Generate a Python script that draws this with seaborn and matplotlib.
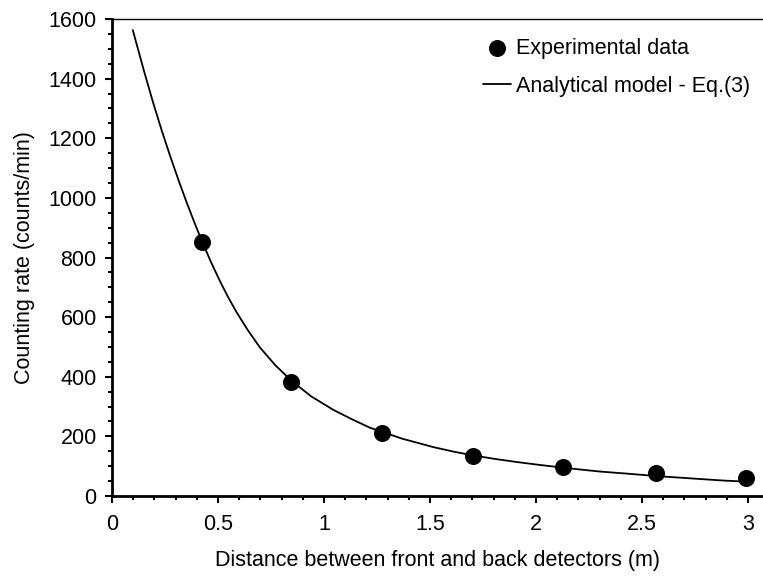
import numpy as np
import pandas as pd
import matplotlib
matplotlib.use("Agg")
import matplotlib.pyplot as plt
from matplotlib.ticker import MultipleLocator
import seaborn as sns

exp_x = [0.423, 0.844, 1.272, 1.704, 2.129, 2.566, 2.99]
exp_y = [852, 383, 212, 135, 98, 76, 61]

# Curva do modelo analitico - Eq.(3), lida ponto a ponto
model_x = [0.098, 0.15, 0.195, 0.235, 0.274, 0.313, 0.352, 0.39, 0.423, 0.466,
           0.509, 0.55, 0.588, 0.64, 0.698, 0.77, 0.844, 0.94, 1.044, 1.13,
           1.217, 1.37, 1.516, 1.61, 1.704, 1.81, 1.909, 2.02, 2.129, 2.22,
           2.302, 2.43, 2.566, 2.67, 2.774, 2.88, 2.994]
model_y = [1563, 1428, 1317, 1225, 1141, 1061, 985, 915, 857, 786,
           721, 664, 616, 557, 498, 439, 388, 334, 289, 258,
           229, 192, 164, 149, 136, 124, 114, 104, 95, 88,
           82, 75, 67, 62, 57, 52, 48]

df_exp = pd.DataFrame({"x": exp_x, "y": exp_y})
df_model = pd.DataFrame({"x": model_x, "y": model_y})

sns.set_style("ticks")
plt.rcParams['font.family'] = ['Liberation Sans', 'DejaVu Sans']
plt.rcParams['text.color'] = 'black'
plt.rcParams['axes.labelcolor'] = 'black'
fs = 15.5

fig = plt.figure(figsize=(7.63, 5.76), dpi=100)
ax = fig.add_axes([112 / 763, 80 / 576, 651 / 763, 477 / 576])

sns.lineplot(data=df_model, x="x", y="y", ax=ax, color="black", linewidth=1.3,
             label="Analytical model - Eq.(3)", sort=False)
sns.scatterplot(data=df_exp, x="x", y="y", ax=ax, color="black", s=150,
                edgecolor="black", linewidth=0, label="Experimental data", zorder=3)

ax.set_xlim(0, 651 / 212)
ax.set_ylim(0, 1600)
ax.xaxis.set_major_locator(MultipleLocator(0.5))
ax.xaxis.set_minor_locator(MultipleLocator(0.1))
ax.yaxis.set_major_locator(MultipleLocator(200))
ax.yaxis.set_minor_locator(MultipleLocator(50))
ax.set_xticks([0, 0.5, 1, 1.5, 2, 2.5, 3])
ax.set_xticklabels(["0", "0.5", "1", "1.5", "2", "2.5", "3"])

ax.tick_params(which="major", direction="out", length=5, width=1.5, labelsize=fs,
               color="black", labelcolor="black")
ax.tick_params(axis="x", which="major", pad=8)
ax.tick_params(axis="y", which="major", pad=6)
ax.tick_params(which="minor", direction="out", length=3, width=1.5, color="black")

for side in ["left", "bottom"]:
    ax.spines[side].set_linewidth(2)
    ax.spines[side].set_color("black")
ax.spines["top"].set_linewidth(1)
ax.spines["top"].set_color("black")
ax.spines["right"].set_visible(False)

ax.set_xlabel("Distance between front and back detectors (m)", fontsize=fs, labelpad=11)
ax.set_ylabel("Counting rate (counts/min)", fontsize=fs, labelpad=10)

handles, labels = ax.get_legend_handles_labels()
ax.legend(handles[::-1], labels[::-1], loc="upper left", bbox_to_anchor=(0.557, 0.978),
          frameon=False, fontsize=fs, handlelength=1.3, handletextpad=0.2,
          labelspacing=0.78, markerscale=1.0, borderaxespad=0)

fig.savefig("out.png", dpi=100)
